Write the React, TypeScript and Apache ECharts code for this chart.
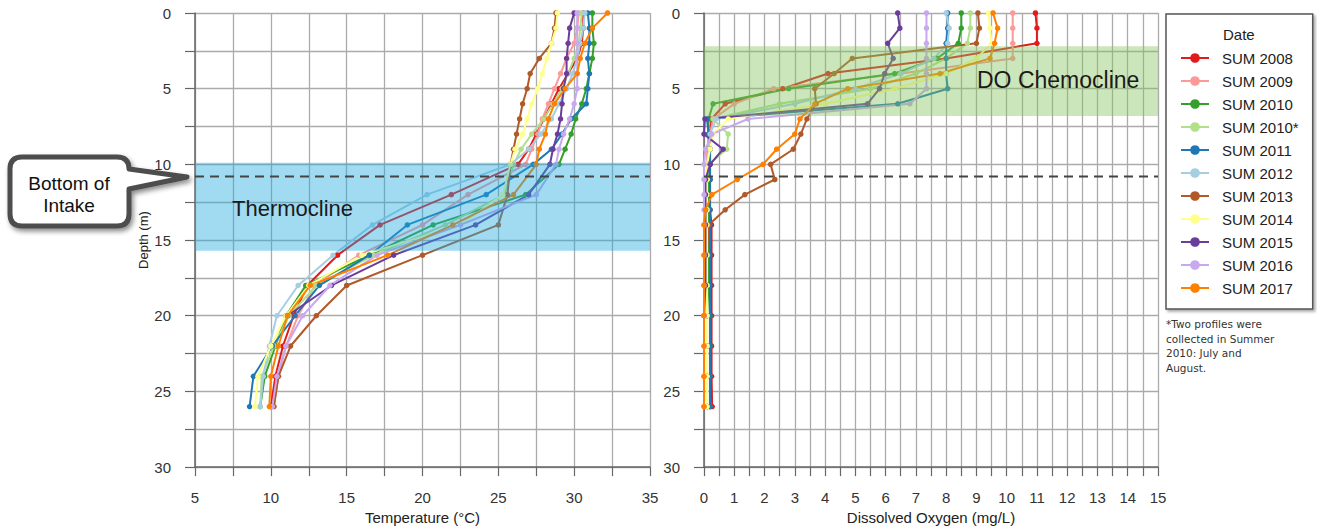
import React, { useEffect, useRef } from "react";
import * as echarts from "echarts";

// ---------- categories / legend ----------
const SERIES_NAMES = ["SUM 2008", "SUM 2009", "SUM 2010", "SUM 2010*", "SUM 2011", "SUM 2012", "SUM 2013", "SUM 2014", "SUM 2015", "SUM 2016", "SUM 2017"];
const SERIES_COLORS = ["#e31a1c", "#fb9a99", "#33a02c", "#b2df8a", "#1f78b4", "#a6cee3", "#b15928", "#ffff8c", "#6a3d9a", "#c8a8ee", "#ff7f00"];

// ---------- temperature profiles (°C) ----------
const TEMP_DEPTHS = [0, 1, 2, 3, 4, 5, 6, 7, 8, 9, 10, 12, 14, 16, 18, 20, 22, 24, 26];
const T2008 = [30.6, 30.6, 30.5, 30.2, 29.6, 29.0, 28.5, 28.0, 27.5, 27.0, 26.3, 21.9, 17.2, 14.4, 12.4, 11.5, 10.8, 10.3, 10.0];
const T2009 = [30.3, 30.2, 30.0, 29.5, 29.1, 28.7, 28.3, 27.9, 27.6, 27.2, 26.8, 23.0, 20.0, 15.8, 12.9, 11.8, 11.0, 10.5, 10.2];
const T2010 = [31.2, 31.2, 31.3, 31.2, 31.0, 30.8, 30.5, 30.1, 29.8, 29.4, 29.0, 26.8, 20.7, 16.5, 12.3, 11.0, 10.3, 9.6, 9.3];
const T2010B = [30.5, 30.4, 30.3, 30.0, 29.6, 29.2, 28.6, 28.0, 27.2, 26.5, 26.0, 25.4, 21.5, 16.8, 13.0, 11.2, 10.2, 9.4, 9.3];
const T2011 = [30.9, 31.0, 31.0, 30.9, 31.0, 30.9, 30.8, 29.8, 29.2, 28.5, 27.3, 24.2, 19.0, 16.5, 13.2, 11.6, 10.1, 8.85, 8.6];
const T2012 = [30.7, 30.6, 30.4, 30.2, 29.9, 29.5, 29.0, 28.5, 27.8, 27.0, 25.8, 20.3, 16.7, 14.1, 11.8, 10.4, 9.9, 9.5, 9.3];
const T2013 = [28.8, 28.7, 28.5, 27.7, 27.1, 26.9, 26.6, 26.4, 26.2, 26.0, 25.8, 25.6, 25.0, 20.0, 15.0, 13.0, 11.3, 10.5, 10.2];
const T2014 = [28.9, 28.8, 28.5, 28.2, 27.9, 27.6, 27.2, 26.9, 26.6, 26.1, 25.8, 25.3, 22.5, 16.0, 12.5, 11.0, 10.0, 9.15, 8.95];
const T2015 = [30.0, 29.7, 29.6, 29.5, 29.5, 29.3, 29.2, 29.1, 28.9, 28.6, 28.4, 27.0, 23.5, 18.1, 14.0, 11.1, null, null, null];
const T2016 = [30.2, 30.2, 30.2, 30.2, 30.2, 30.2, 30.0, 29.7, 29.3, 29.0, 28.8, 27.5, 22.5, 17.0, 13.9, 12.1, 11.0, 10.4, 10.1];
const T2017 = [32.2, 31.2, 30.7, 30.4, 30.2, 29.4, 28.7, 28.3, 28.1, 27.7, 27.5, 26.0, 22.0, 17.7, 12.6, 11.1, 10.5, 10.0, 9.9];
const TEMP_VALUES = [T2008, T2009, T2010, T2010B, T2011, T2012, T2013, T2014, T2015, T2016, T2017];

// ---------- dissolved oxygen profiles (mg/L) ----------
const DO_DEPTHS = [0, 1, 2, 3, 4, 5, 6, 7, 8, 9, 10, 11, 12, 13, 14, 16, 18, 20, 22, 24, 26];
const DO2008 = [10.95, 11.0, 11.0, 8.0, 4.1, 2.6, 0.7, 0.25, 0.2, 0.2, 0.2, 0.2, 0.2, 0.2, 0.25, 0.25, 0.25, 0.25, 0.25, 0.25, 0.27];
const DO2009 = [10.2, 10.2, 10.2, 10.2, 6.5, 2.3, 1.0, 0.3, 0.2, 0.1, 0.1, 0.1, 0.1, 0.1, 0.1, 0.1, 0.1, 0.1, 0.1, 0.1, 0.1];
const DO2010 = [8.5, 8.5, 8.4, 7.7, 6.3, 2.8, 0.3, 0.15, 0.15, 0.15, 0.15, 0.15, 0.15, 0.15, 0.15, 0.15, 0.15, 0.2, 0.2, 0.2, 0.2];
const DO2010B = [8.8, 8.8, 8.7, 8.0, 7.0, 5.5, 2.5, 0.3, 0.8, 0.75, 0.15, 0.1, 0.1, 0.1, 0.1, 0.1, 0.1, 0.1, 0.1, 0.1, 0.1];
const DO2011 = [8.05, 8.05, 8.0, 8.0, 8.0, 8.05, 6.4, 0.1, 0.15, 0.2, 0.2, 0.2, 0.2, 0.2, 0.2, 0.2, 0.2, 0.2, 0.2, 0.2, 0.2];
const DO2012 = [8.0, 8.1, 8.05, 7.6, 6.5, 5.0, 3.0, 0.4, 0.2, 0.15, 0.1, 0.1, 0.1, 0.1, 0.1, 0.1, 0.1, 0.1, 0.1, 0.1, 0.1];
const DO2013 = [9.05, 9.1, 9.0, 4.9, 4.3, 3.66, 3.7, 3.4, 3.2, 2.95, 2.2, 2.34, 1.35, 0.7, 0.15, 0.1, 0.1, 0.1, 0.1, 0.1, 0.1];
const DO2014 = [9.4, 9.45, 9.5, 9.0, 8.0, 6.3, 4.0, 0.8, 0.3, 0.2, 0.1, 0.1, 0.1, 0.1, 0.1, 0.1, 0.1, 0.1, 0.1, 0.1, 0.1];
const DO2015 = [6.4, 6.47, 6.07, 6.25, 5.97, 5.8, 5.4, 0.03, 0.0, 0.63, 0.2, 0.05, 0.05, 0.05, 0.05, 0.05, 0.05, 0.0, null, null, null];
const DO2016 = [7.35, 7.35, 7.35, 7.35, 7.35, 7.35, 6.8, 1.45, 0.26, 0.05, 0.0, 0.0, 0.0, 0.0, 0.0, 0.0, 0.0, 0.0, 0.0, 0.0, 0.0];
const DO2017 = [9.55, 9.7, 9.6, 9.45, 7.8, 4.75, 3.66, 3.17, 3.0, 2.4, 1.95, 1.1, 0.26, 0.05, 0.0, 0.0, 0.0, 0.0, 0.0, 0.0, 0.0];
const DO_VALUES = [DO2008, DO2009, DO2010, DO2010B, DO2011, DO2012, DO2013, DO2014, DO2015, DO2016, DO2017];

// ---------- annotation depths (m) ----------
const THERMOCLINE = [9.9, 15.7];
const CHEMOCLINE = [2.2, 6.8];
const INTAKE_DEPTH = 10.8;

// ---------- axis ranges ----------
const TEMP_RANGE = [5, 35];
const DO_RANGE = [0, 15];
const DEPTH_RANGE = [0, 30];

const FONT = "'Liberation Sans', Arial, sans-serif";
const GOTHIC = "'DejaVu Sans', 'Liberation Sans', sans-serif";
const GRID_COLOR = "#ababab";
const AXIS_COLOR = "#666";

const CALLOUT_PATH =
  "M22 157 H117 Q129 157 129 169 L187 177 L129 189 V214 Q129 226 117 226 H22 Q10 226 10 214 V169 Q10 157 22 157 Z";

let registered = false;
function registerShapes() {
  if (registered) return;
  echarts.graphic.registerShape("callout", echarts.graphic.extendPath(CALLOUT_PATH, {}));
  registered = true;
}

function xAxisCfg(gridIndex: number, range: number[], interval: number, name: string) {
  return {
    type: "value",
    gridIndex,
    min: range[0],
    max: range[1],
    interval,
    position: "bottom",
    name,
    nameLocation: "middle",
    nameGap: 42,
    nameTextStyle: { fontSize: 15, color: "#222", fontFamily: FONT },
    axisLine: { show: true, onZero: false, lineStyle: { color: AXIS_COLOR, width: 1.5 } },
    axisTick: { show: true, length: 9, lineStyle: { color: AXIS_COLOR, width: 1.2 } },
    minorTick: { show: true, splitNumber: 2, length: 9, lineStyle: { color: AXIS_COLOR, width: 1.2 } },
    splitLine: { show: true, lineStyle: { color: GRID_COLOR, width: 1.3 } },
    minorSplitLine: { show: true, lineStyle: { color: GRID_COLOR, width: 1.3 } },
    axisLabel: { fontSize: 15, color: "#333", margin: 23, fontFamily: FONT },
  };
}

function yAxisCfg(gridIndex: number, name: string) {
  return {
    type: "value",
    gridIndex,
    min: DEPTH_RANGE[0],
    max: DEPTH_RANGE[1],
    interval: 5,
    inverse: true,
    name,
    nameLocation: "middle",
    nameGap: 44,
    nameTextStyle: { fontSize: 13, color: "#222", fontFamily: FONT },
    axisLine: { show: true, onZero: false, lineStyle: { color: AXIS_COLOR, width: 1.5 } },
    axisTick: { show: true, length: 10, lineStyle: { color: AXIS_COLOR, width: 1.2 } },
    minorTick: { show: true, splitNumber: 2, length: 10, lineStyle: { color: AXIS_COLOR, width: 1.2 } },
    splitLine: { show: true, lineStyle: { color: GRID_COLOR, width: 1.3 } },
    minorSplitLine: { show: true, lineStyle: { color: GRID_COLOR, width: 1.3 } },
    axisLabel: { fontSize: 15, color: "#333", margin: 24, fontFamily: FONT },
  };
}

function bandSeries(gridIndex: number, range: number[], band: number[], fill: string) {
  return {
    type: "custom",
    name: "band" + gridIndex,
    xAxisIndex: gridIndex,
    yAxisIndex: gridIndex,
    z: 4,
    silent: true,
    data: [[range[0], band[0], range[1], band[1], INTAKE_DEPTH]],
    renderItem: (_params: any, api: any) => {
      const p1 = api.coord([api.value(0), api.value(1)]);
      const p2 = api.coord([api.value(2), api.value(3)]);
      const l1 = api.coord([api.value(0), api.value(4)]);
      const l2 = api.coord([api.value(2), api.value(4)]);
      return {
        type: "group",
        children: [
          {
            type: "rect",
            shape: { x: p1[0], y: p1[1], width: p2[0] - p1[0], height: p2[1] - p1[1] },
            style: { fill },
          },
          {
            type: "line",
            shape: { x1: l1[0], y1: l1[1], x2: l2[0], y2: l2[1] },
            style: { stroke: "#444", lineWidth: 2.2, lineDash: [9, 6] },
          },
        ],
      };
    },
  };
}

function profileSeries(name: string, color: string, depths: number[], values: (number | null)[], gridIndex: number) {
  const data: number[][] = [];
  depths.forEach((d, j) => {
    const v = values[j];
    if (v !== null && v !== undefined) data.push([v, d]);
  });
  return {
    name,
    type: "line",
    xAxisIndex: gridIndex,
    yAxisIndex: gridIndex,
    data,
    color,
    symbol: "circle",
    symbolSize: 5.5,
    showSymbol: true,
    lineStyle: { width: 2, color },
    itemStyle: { color },
    z: 2,
  };
}

export default function App() {
  const ref = useRef<HTMLDivElement>(null);

  useEffect(() => {
    if (!ref.current) return;
    registerShapes();
    const chart = echarts.init(ref.current, null, { renderer: "svg" });

    const series: any[] = [];
    SERIES_NAMES.forEach((name, i) => {
      series.push(profileSeries(name, SERIES_COLORS[i], TEMP_DEPTHS, TEMP_VALUES[i], 0));
    });
    SERIES_NAMES.forEach((name, i) => {
      series.push(profileSeries(name, SERIES_COLORS[i], DO_DEPTHS, DO_VALUES[i], 1));
    });
    series.push(bandSeries(0, TEMP_RANGE, THERMOCLINE, "rgba(30,170,225,0.42)"));
    series.push(bandSeries(1, DO_RANGE, CHEMOCLINE, "rgba(130,195,90,0.42)"));

    const option: any = {
      animation: false,
      backgroundColor: "#ffffff",
      textStyle: { fontFamily: FONT },
      grid: [
        { left: 195, top: 13, width: 455, height: 456 },
        { left: 704, top: 13, width: 454, height: 456 },
      ],
      xAxis: [
        xAxisCfg(0, TEMP_RANGE, 5, "Temperature (°C)"),
        xAxisCfg(1, DO_RANGE, 1, "Dissolved Oxygen (mg/L)"),
      ],
      yAxis: [yAxisCfg(0, "Depth (m)"), yAxisCfg(1, "")],
      legend: {
        data: SERIES_NAMES,
        orient: "vertical",
        left: 1166,
        top: 14,
        padding: [36, 14, 13, 14],
        itemGap: 7,
        itemWidth: 28,
        itemHeight: 12,
        backgroundColor: "#fff",
        borderColor: "#555",
        borderWidth: 1.5,
        shadowBlur: 3,
        shadowColor: "rgba(0,0,0,0.35)",
        shadowOffsetX: 2,
        shadowOffsetY: 2,
        selectedMode: false,
        textStyle: { fontSize: 15, color: "#222", fontFamily: FONT, lineHeight: 16, padding: [0, 0, 0, 8] },
      },
      series,
      graphic: [
        {
          type: "callout",
          x: 0,
          y: 0,
          z: 100,
          style: {
            fill: "#ffffff",
            stroke: "#4d4d4d",
            lineWidth: 5,
            lineJoin: "round",
            shadowBlur: 5,
            shadowColor: "rgba(0,0,0,0.45)",
            shadowOffsetX: 2,
            shadowOffsetY: 3,
          },
        },
        {
          type: "text",
          x: 69,
          y: 194,
          z: 101,
          style: {
            text: "Bottom of\nIntake",
            fontSize: 19,
            fontFamily: FONT,
            lineHeight: 22,
            fill: "#111",
            align: "center",
            verticalAlign: "middle",
          },
        },
        {
          type: "text",
          x: 232,
          y: 208,
          z: 100,
          style: { text: "Thermocline", fontSize: 22, fontFamily: FONT, fill: "#1a1a1a", align: "left", verticalAlign: "middle" },
        },
        {
          type: "text",
          x: 977,
          y: 80,
          z: 100,
          style: { text: "DO Chemocline", fontSize: 23, fontFamily: FONT, fill: "#1a1a1a", align: "left", verticalAlign: "middle" },
        },
        {
          type: "text",
          x: 1223,
          y: 34,
          z: 100,
          style: { text: "Date", fontSize: 15, fontFamily: FONT, fill: "#222", align: "left", verticalAlign: "middle" },
        },
        {
          type: "text",
          x: 1166,
          y: 317,
          z: 100,
          style: {
            text: "*Two profiles were\ncollected in Summer\n2010: July and\nAugust.",
            fontSize: 10.5,
            fontFamily: GOTHIC,
            lineHeight: 14.5,
            fill: "#333",
            align: "left",
            verticalAlign: "top",
          },
        },
      ],
    };

    chart.setOption(option);
    return () => {
      chart.dispose();
    };
  }, []);

  return (
    <div
      ref={ref}
      style={{ position: "fixed", left: 0, top: 0, width: "1317px", height: "530px", background: "#fff" }}
    />
  );
}
